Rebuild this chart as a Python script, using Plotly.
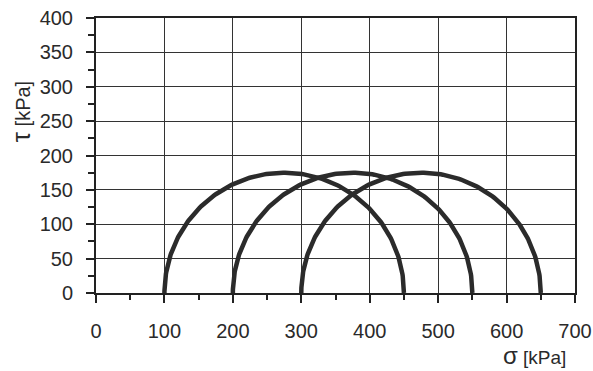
import numpy as np
import plotly.graph_objects as go

# Mohr circles: minor and major principal stresses [kPa]
sigma3 = [100, 200, 300]
sigma1 = [450, 550, 650]
x_ticks = [0, 100, 200, 300, 400, 500, 600, 700]
y_ticks = [0, 50, 100, 150, 200, 250, 300, 350, 400]

fig = go.Figure()
theta = np.linspace(0, np.pi, 200)
for s3, s1 in zip(sigma3, sigma1):
    c = (s1 + s3) / 2
    r = (s1 - s3) / 2
    fig.add_trace(go.Scatter(
        x=c + r * np.cos(theta), y=r * np.sin(theta),
        mode="lines", line=dict(color="#2b2b2b", width=4.5),
        showlegend=False, hoverinfo="skip", cliponaxis=False))

font = dict(family="Liberation Sans, Arial, sans-serif", size=20, color="#2a2a2a")

fig.update_xaxes(
    range=[0, 700], tickvals=x_ticks, ticktext=[str(v) for v in x_ticks],
    showgrid=True, gridcolor="#333", gridwidth=1,
    showline=True, linecolor="#222", linewidth=2, mirror=True,
    ticks="outside", ticklen=8, tickwidth=2, tickcolor="#222",
    minor=dict(dtick=50, ticks="outside", ticklen=5, tickwidth=2, tickcolor="#222", showgrid=False),
    ticklabelstandoff=11, tickfont=font, zeroline=False, automargin=False)
fig.update_yaxes(
    range=[0, 400], tickvals=y_ticks, ticktext=[str(v) for v in y_ticks],
    showgrid=True, gridcolor="#333", gridwidth=1,
    showline=True, linecolor="#222", linewidth=2, mirror=True,
    ticks="outside", ticklen=8, tickwidth=2, tickcolor="#222",
    minor=dict(dtick=25, ticks="outside", ticklen=6, tickwidth=2, tickcolor="#222", showgrid=False),
    ticklabelstandoff=9, tickfont=font, zeroline=False, automargin=False)

fig.add_annotation(text="<span style='font-size:26px'>τ</span> [kPa]", xref="paper", yref="paper",
                   x=-0.155, y=0.66, textangle=-90, showarrow=False, font=font,
                   xanchor="center", yanchor="middle")
fig.add_annotation(text="<span style='font-size:24px'>σ</span> [kPa]", xref="paper", yref="paper",
                   x=0.915, y=-0.28, showarrow=False,
                   font=dict(family="Liberation Sans, Arial, sans-serif", size=19, color="#2a2a2a"),
                   xanchor="center", yanchor="bottom", borderpad=0)

fig.update_layout(
    width=593, height=371,
    margin=dict(l=96, r=18, t=18, b=78, autoexpand=False),
    paper_bgcolor="white", plot_bgcolor="white")

fig.write_html("out.html")
